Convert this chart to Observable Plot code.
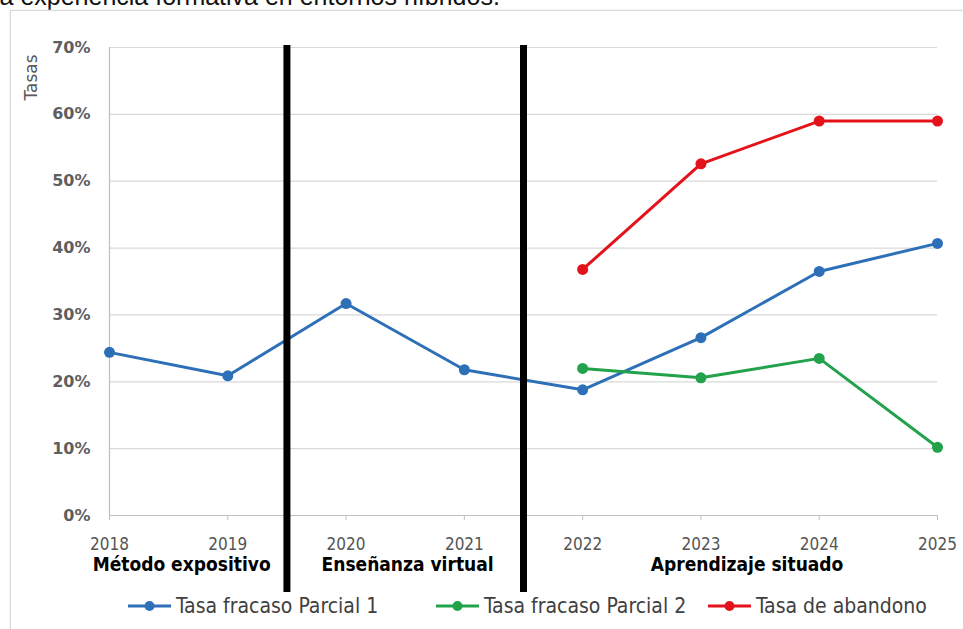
<!DOCTYPE html>
<html>
<head>
<meta charset="utf-8">
<script src="https://cdn.jsdelivr.net/npm/d3@7"></script>
<script src="https://cdn.jsdelivr.net/npm/@observablehq/plot@0.6"></script>
<style>
  html, body { margin: 0; padding: 0; background: #fff; width: 963px; height: 629px; overflow: hidden; position: relative; }
  #title { position: absolute; left: -6px; top: -16px; font: 25px "Liberation Sans", Arial, sans-serif; color: #111; white-space: nowrap; line-height: 25px; }
  #frame { position: absolute; left: 10px; top: 10px; width: 1000px; height: 700px; border: 1px solid #d9d9d9; box-shadow: 0 0 2px #e6e6e6; }
  #chart { position: absolute; left: 0; top: 0; }
  #legend { position: absolute; top: 594px; left: 0; width: 963px; height: 26px; font: 21px "DejaVu Sans Condensed", "Liberation Sans Narrow", Arial, sans-serif; color: #404040; }
  .item { position: absolute; display: flex; align-items: center; white-space: nowrap; }
  .item svg { margin-right: 5px; }
</style>
</head>
<body>
<div id="title">la experiencia formativa en entornos híbridos.</div>
<div id="frame"></div>
<div id="chart"></div>
<div id="legend"></div>
<script>
// ---- data ----
const years = [2018, 2019, 2020, 2021, 2022, 2023, 2024, 2025];
const parcial1 = [0.244, 0.209, 0.317, 0.218, 0.188, 0.266, 0.365, 0.407];
const parcial2 = [null, null, null, null, 0.220, 0.206, 0.235, 0.102];
const abandono = [null, null, null, null, 0.368, 0.526, 0.590, 0.590];
const seriesNames = ["Tasa fracaso Parcial 1", "Tasa fracaso Parcial 2", "Tasa de abandono"];
const seriesColors = ["#2e70b7", "#22a24a", "#e4121b"];
const yTicks = [0, 0.1, 0.2, 0.3, 0.4, 0.5, 0.6, 0.7];
const separators = [2019.5, 2021.5];
const groupLabels = ["Método expositivo", "Enseñanza virtual", "Aprendizaje situado"];
const groupX = [2018.61, 2020.52, 2023.39];

const rows = [];
[parcial1, parcial2, abandono].forEach((vals, i) => {
  vals.forEach((v, j) => rows.push({series: seriesNames[i], year: years[j], value: v}));
});
const groups = groupLabels.map((g, i) => ({label: g, x: groupX[i]}));
const condensed = "'DejaVu Sans Condensed', 'Liberation Sans Narrow', Arial, sans-serif";

const chart = Plot.plot({
  width: 963,
  height: 629,
  marginLeft: 109,
  marginRight: 26,
  marginTop: 47,
  marginBottom: 114,
  style: {fontFamily: "'DejaVu Sans', Arial, sans-serif", fontSize: "15px", background: "transparent", overflow: "visible"},
  x: {domain: [2018, 2025], label: null},
  y: {domain: [0, 0.7], label: null},
  color: {domain: seriesNames, range: seriesColors},
  marks: [
    Plot.gridY(yTicks, {stroke: "#d9d9d9", strokeOpacity: 1, strokeWidth: 1.2}),
    Plot.axisY(yTicks, {tickFormat: d3.format(".0%"), tickSize: 0, tickPadding: 19, fill: "#5f5f5f", fontSize: 16, fontWeight: "bold", label: null}),
    Plot.axisX(years, {tickFormat: d => String(d), tickSize: 5, tickPadding: 17, stroke: "#bfbfbf", fill: "#555", fontSize: 17, fontFamily: condensed, label: null}),
    Plot.ruleY([0], {stroke: "#bfbfbf", strokeWidth: 1.2}),
    Plot.ruleX([2018], {stroke: "#bfbfbf", strokeWidth: 1.2}),
    Plot.text(["Tasas"], {frameAnchor: "top-left", textAnchor: "middle", lineAnchor: "middle", dx: -78, dy: 30, rotate: -90, fill: "#595959", fontSize: 17}),
    Plot.line(rows, {x: "year", y: "value", stroke: "series", strokeWidth: 3}),
    Plot.dot(rows, {x: "year", y: "value", fill: "series", r: 5.5}),
    Plot.ruleX(separators, {stroke: "#000", strokeWidth: 7, insetTop: -2, insetBottom: -77}),
    Plot.text(groups, {x: "x", frameAnchor: "bottom", dy: 55, text: "label", fontWeight: "bold", fontSize: 19, fill: "#000", fontFamily: condensed})
  ]
});
document.getElementById("chart").appendChild(chart);

// ---- legend ----
const legendLeft = [128, 436, 708];
const legend = document.getElementById("legend");
seriesNames.forEach((name, i) => {
  const item = document.createElement("div");
  item.className = "item";
  item.style.left = legendLeft[i] + "px";
  item.innerHTML = `<svg width="43" height="24"><line x1="0" y1="12" x2="43" y2="12" stroke="${seriesColors[i]}" stroke-width="3"/><circle cx="21.5" cy="12" r="5" fill="${seriesColors[i]}"/></svg><span>${name}</span>`;
  legend.appendChild(item);
});
</script>
</body>
</html>
